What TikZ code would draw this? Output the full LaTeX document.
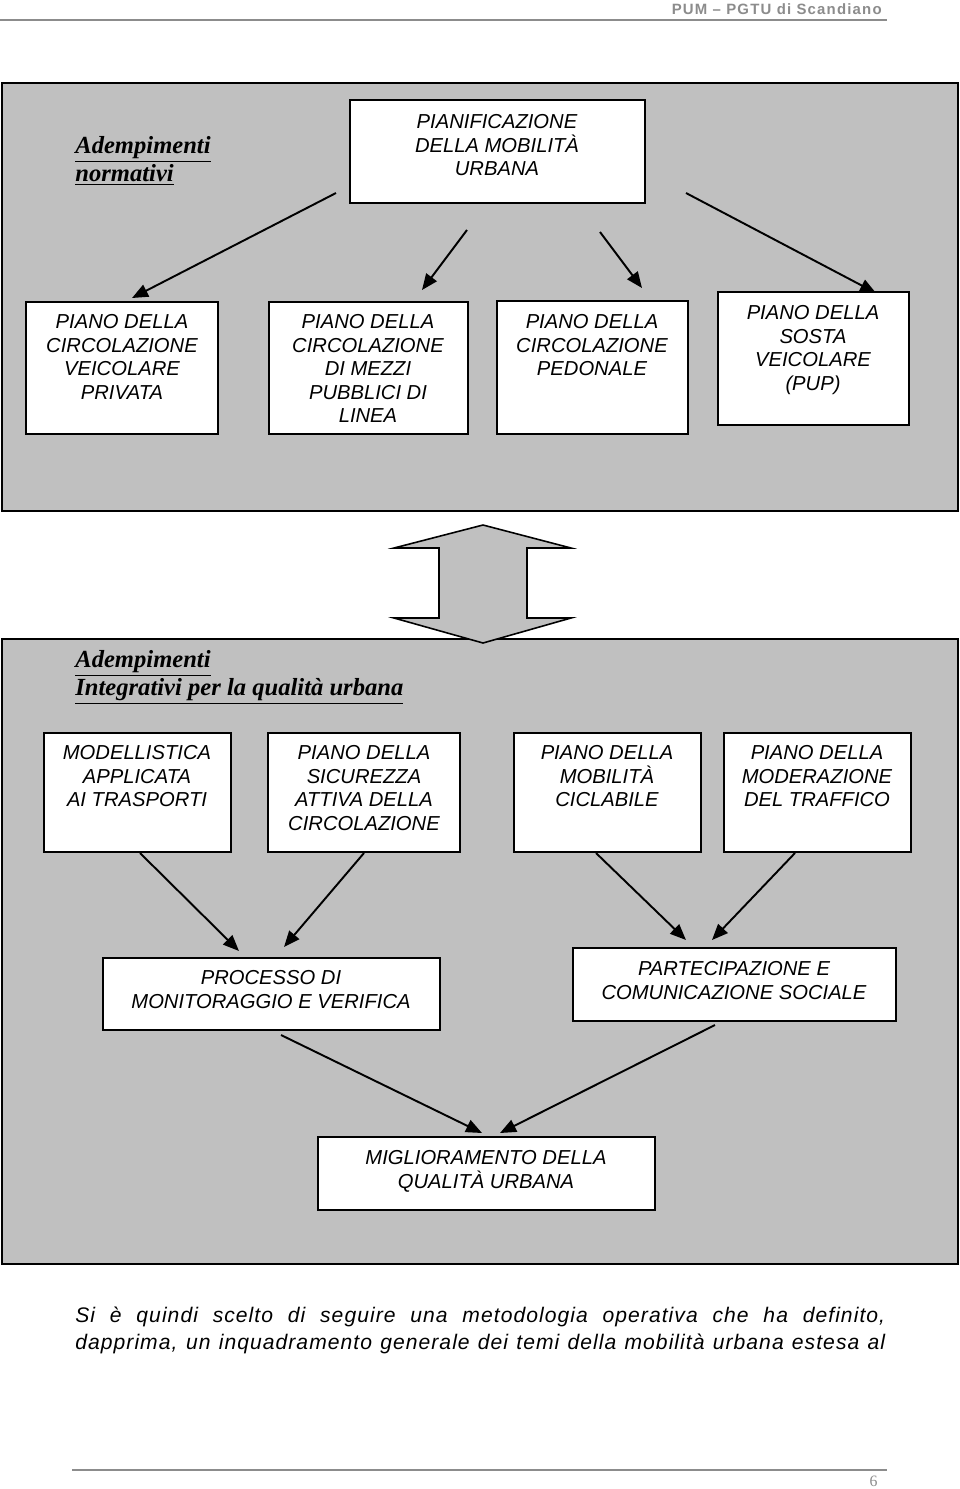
\documentclass[tikz,border=0pt]{standalone}
\usepackage{fontspec}
\setmainfont{Liberation Serif}
\setsansfont{Liberation Sans}
\usetikzlibrary{arrows.meta,fit}
\definecolor{panelgray}{RGB}{192,192,192}
\definecolor{headgray}{RGB}{140,140,140}
\newcommand{\myul}[1]{\underline{#1}}
\tikzset{
 panel/.style={draw=black, fill=panelgray, line width=1.1pt},
 box/.style={draw=black, fill=white, line width=0.8pt, inner sep=0pt},
 boxtext/.style={anchor=north, inner sep=0pt, align=center, font=\sffamily\itshape\fontsize{11.5}{13.4}\selectfont},
 titletext/.style={anchor=north west, inner sep=0pt, align=left, font=\rmfamily\bfseries\itshape\fontsize{14}{15.9}\selectfont},
 flow/.style={line width=1.1pt, -{Triangle[length=0.32cm,width=0.26cm]}},
 paratext/.style={anchor=base west, inner sep=0pt, font=\sffamily\itshape\fontsize{12}{14}\selectfont\addfontfeatures{LetterSpace=5}},
}
\begin{document}
\begin{tikzpicture}[x=0.02cm,y=-0.02cm]
\fill[white] (0,0) rectangle (960,1489);
\useasboundingbox (0,0) rectangle (960,1489);

% header
\node[anchor=east, inner sep=0pt, text=headgray, font=\sffamily\bfseries\fontsize{8.5}{10}\selectfont\addfontfeatures{LetterSpace=8}] (hdr) at (882,9) {PUM – PGTU di Scandiano};
\draw[headgray, line width=1pt] (0,20) -- (887,20);

% top panel
\node[panel, inner sep=0pt, fit={(2,83)(958,511)}] (toppanel) {};
\node[titletext] (t1) at (75,136) {\myul{Adempimenti}\\\myul{normativi}};

\node[box, fit={(350,100)(645,203)}] (pian) {};
\node[boxtext] (piant) at (497,114) {PIANIFICAZIONE\\DELLA MOBILITÀ\\URBANA};

\node[box, fit={(26,302)(218,434)}] (b1) {};
\node[boxtext] (b1t) at (122,314) {PIANO DELLA\\CIRCOLAZIONE\\VEICOLARE\\PRIVATA};
\node[box, fit={(269,302)(468,434)}] (b2) {};
\node[boxtext] (b2t) at (368,314) {PIANO DELLA\\CIRCOLAZIONE\\DI MEZZI\\PUBBLICI DI\\LINEA};
\node[box, fit={(497,301)(688,434)}] (b3) {};
\node[boxtext] (b3t) at (592,314) {PIANO DELLA\\CIRCOLAZIONE\\PEDONALE};
\node[box, fit={(718,292)(909,425)}] (b4) {};
\node[boxtext] (b4t) at (813,305) {PIANO DELLA\\SOSTA\\VEICOLARE\\(PUP)};

\coordinate (a1s) at (336,193); \coordinate (a1e) at (132,298);
\coordinate (a2s) at (467,230); \coordinate (a2e) at (422,290);
\coordinate (a3s) at (600,232); \coordinate (a3e) at (642,288);
\coordinate (a4s) at (686,193); \coordinate (a4e) at (876,293);
\draw[flow] (a1s) -- (a1e);
\draw[flow] (a2s) -- (a2e);
\draw[flow] (a3s) -- (a3e);
\draw[flow] (a4s) -- (a4e);

% bottom panel
\node[panel, inner sep=0pt, fit={(2,639)(958,1264)}] (botpanel) {};

% double arrow
\draw[draw=black, fill=panelgray, line width=0.9pt, line join=miter]
  (483,525) -- (571,548) -- (527,548) -- (527,618) -- (571,618) -- (483,643)
  -- (394,618) -- (439,618) -- (439,548) -- (394,548) -- cycle;

\node[titletext] (t2) at (75,650) {\myul{Adempimenti}\\\myul{Integrativi per la qualità urbana}};

\node[box, fit={(44,733)(231,852)}] (c1) {};
\node[boxtext] (c1t) at (137,745) {MODELLISTICA\\APPLICATA\\AI TRASPORTI};
\node[box, fit={(268,733)(460,852)}] (c2) {};
\node[boxtext] (c2t) at (364,745) {PIANO DELLA\\SICUREZZA\\ATTIVA DELLA\\CIRCOLAZIONE};
\node[box, fit={(514,733)(701,852)}] (c3) {};
\node[boxtext] (c3t) at (607,745) {PIANO DELLA\\MOBILITÀ\\CICLABILE};
\node[box, fit={(724,733)(911,852)}] (c4) {};
\node[boxtext] (c4t) at (817,745) {PIANO DELLA\\MODERAZIONE\\DEL TRAFFICO};

\node[box, fit={(103,958)(440,1030)}] (d1) {};
\node[boxtext] (d1t) at (271,970) {PROCESSO DI\\MONITORAGGIO E VERIFICA};
\node[box, fit={(573,948)(896,1021)}] (d2) {};
\node[boxtext] (d2t) at (734,961) {PARTECIPAZIONE E\\COMUNICAZIONE SOCIALE};

\node[box, fit={(318,1137)(655,1210)}] (e1) {};
\node[boxtext] (e1t) at (486,1150) {MIGLIORAMENTO DELLA\\QUALITÀ URBANA};

\coordinate (a5s) at (140,853); \coordinate (a5e) at (239,951);
\coordinate (a6s) at (364,853); \coordinate (a6e) at (284,947);
\coordinate (a7s) at (596,853); \coordinate (a7e) at (686,940);
\coordinate (a8s) at (795,853); \coordinate (a8e) at (712,940);
\coordinate (a9s) at (281,1035); \coordinate (a9e) at (482,1133);
\coordinate (a10s) at (715,1025); \coordinate (a10e) at (500,1133);
\draw[flow] (a5s) -- (a5e);
\draw[flow] (a6s) -- (a6e);
\draw[flow] (a7s) -- (a7e);
\draw[flow] (a8s) -- (a8e);
\draw[flow] (a9s) -- (a9e);
\draw[flow] (a10s) -- (a10e);

% paragraph
\node[paratext] (p1) at (75,1322) {\makebox[16.2cm][s]{Si è quindi scelto di seguire una metodologia operativa che ha definito,}};
\node[paratext] (p2) at (75,1349) {\makebox[16.2cm][s]{dapprima, un inquadramento generale dei temi della mobilità urbana estesa al}};

% footer
\draw[headgray, line width=1pt] (72,1470) -- (887,1470);
\node[anchor=base east, inner sep=0pt, text=headgray, font=\rmfamily\fontsize{9}{10}\selectfont] (pnum) at (878,1486) {6};
\end{tikzpicture}
\end{document}
